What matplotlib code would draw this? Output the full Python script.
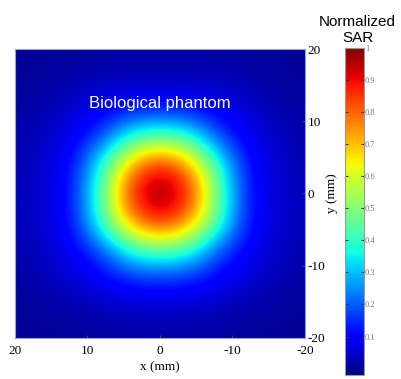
import numpy as np
import matplotlib
matplotlib.use("Agg")
import matplotlib.pyplot as plt
from matplotlib.colors import Normalize

# grid positions (mm)
x_pos = [20, 16, 12, 8, 4, 0, -4, -8, -12, -16, -20]   # left -> right
y_pos = [20, 16, 12, 8, 4, 0, -4, -8, -12, -16, -20]   # top -> bottom

# normalized SAR (half row x=20..0, mirrored in x)
half_rows = [
    [0.00, 0.00, 0.00, 0.01, 0.01, 0.01],
    [0.00, 0.01, 0.02, 0.03, 0.03, 0.03],
    [0.01, 0.02, 0.05, 0.08, 0.10, 0.11],
    [0.02, 0.04, 0.08, 0.17, 0.38, 0.43],
    [0.02, 0.05, 0.11, 0.39, 0.74, 0.91],
    [0.03, 0.05, 0.12, 0.45, 0.90, 1.00],
    [0.03, 0.05, 0.12, 0.42, 0.75, 0.90],
    [0.02, 0.04, 0.09, 0.18, 0.38, 0.43],
    [0.01, 0.03, 0.05, 0.09, 0.13, 0.14],
    [0.00, 0.01, 0.02, 0.03, 0.04, 0.04],
    [0.00, 0.00, 0.00, 0.01, 0.01, 0.01],
]
sar = np.array([r + r[-2::-1] for r in half_rows])

xticks = [20, 10, 0, -10, -20]
yticks = [20, 10, 0, -10, -20]
cbar_ticks = [0.1, 0.2, 0.3, 0.4, 0.5, 0.6, 0.7, 0.8, 0.9, 1]
cbar_labels = ["0.1", "0.2", "0.3", "0.4", "0.5", "0.6", "0.7", "0.8", "0.9", "1"]

serif = "Liberation Serif"
sans = "Liberation Sans"

fig = plt.figure(figsize=(4.01, 3.79), dpi=100)
ax = fig.add_axes([0.0374, 0.1082, 0.7232, 0.7625])

step = 4
norm = Normalize(vmin=-0.02, vmax=1.0)
im = ax.imshow(sar, cmap="jet", norm=norm, interpolation="bicubic",
               extent=[x_pos[0] + step / 2, x_pos[-1] - step / 2,
                       y_pos[-1] - step / 2, y_pos[0] + step / 2],
               aspect="auto")
ax.set_xlim(20, -20)
ax.set_ylim(-20, 20)

ax.set_xticks(xticks)
ax.set_xticklabels([str(t) for t in xticks], fontfamily=serif, fontsize=9.5)
ax.yaxis.tick_right()
ax.yaxis.set_label_position("right")
ax.set_yticks(yticks)
ax.set_yticklabels([str(t) for t in yticks], fontfamily=serif, fontsize=9.5)
ax.tick_params(direction="in", length=2, width=0.6, color="#555555")
ax.tick_params(axis="x", pad=5)
ax.tick_params(axis="y", pad=2)
ax.set_xlabel("x (mm)", fontfamily=serif, fontsize=9.5, labelpad=3)
ax.set_ylabel("y (mm)", fontfamily=serif, fontsize=9.5, labelpad=0, rotation=90)
for s in ax.spines.values():
    s.set_color("#a0a0c8")
    s.set_linewidth(0.8)

ax.text(0.5, 0.81, "Biological phantom", transform=ax.transAxes, ha="center",
        va="center", color="white", fontfamily=sans, fontsize=12)

cax = fig.add_axes([0.860, 0.0106, 0.047, 0.863])
cb = fig.colorbar(im, cax=cax, ticks=cbar_ticks)
cb.ax.set_yticklabels(cbar_labels, fontfamily=serif, fontsize=6, color="#777777")
cb.ax.tick_params(direction="in", left=True, right=True, length=2.5,
                  width=0.8, pad=1, color="#333333")
cb.outline.set_edgecolor("#999999")
cb.outline.set_linewidth(0.8)

fig.text(0.892, 0.92, "Normalized\nSAR", ha="center", va="center",
         fontfamily=sans, fontsize=11, linespacing=1.2)

fig.savefig("out.png", dpi=100)
